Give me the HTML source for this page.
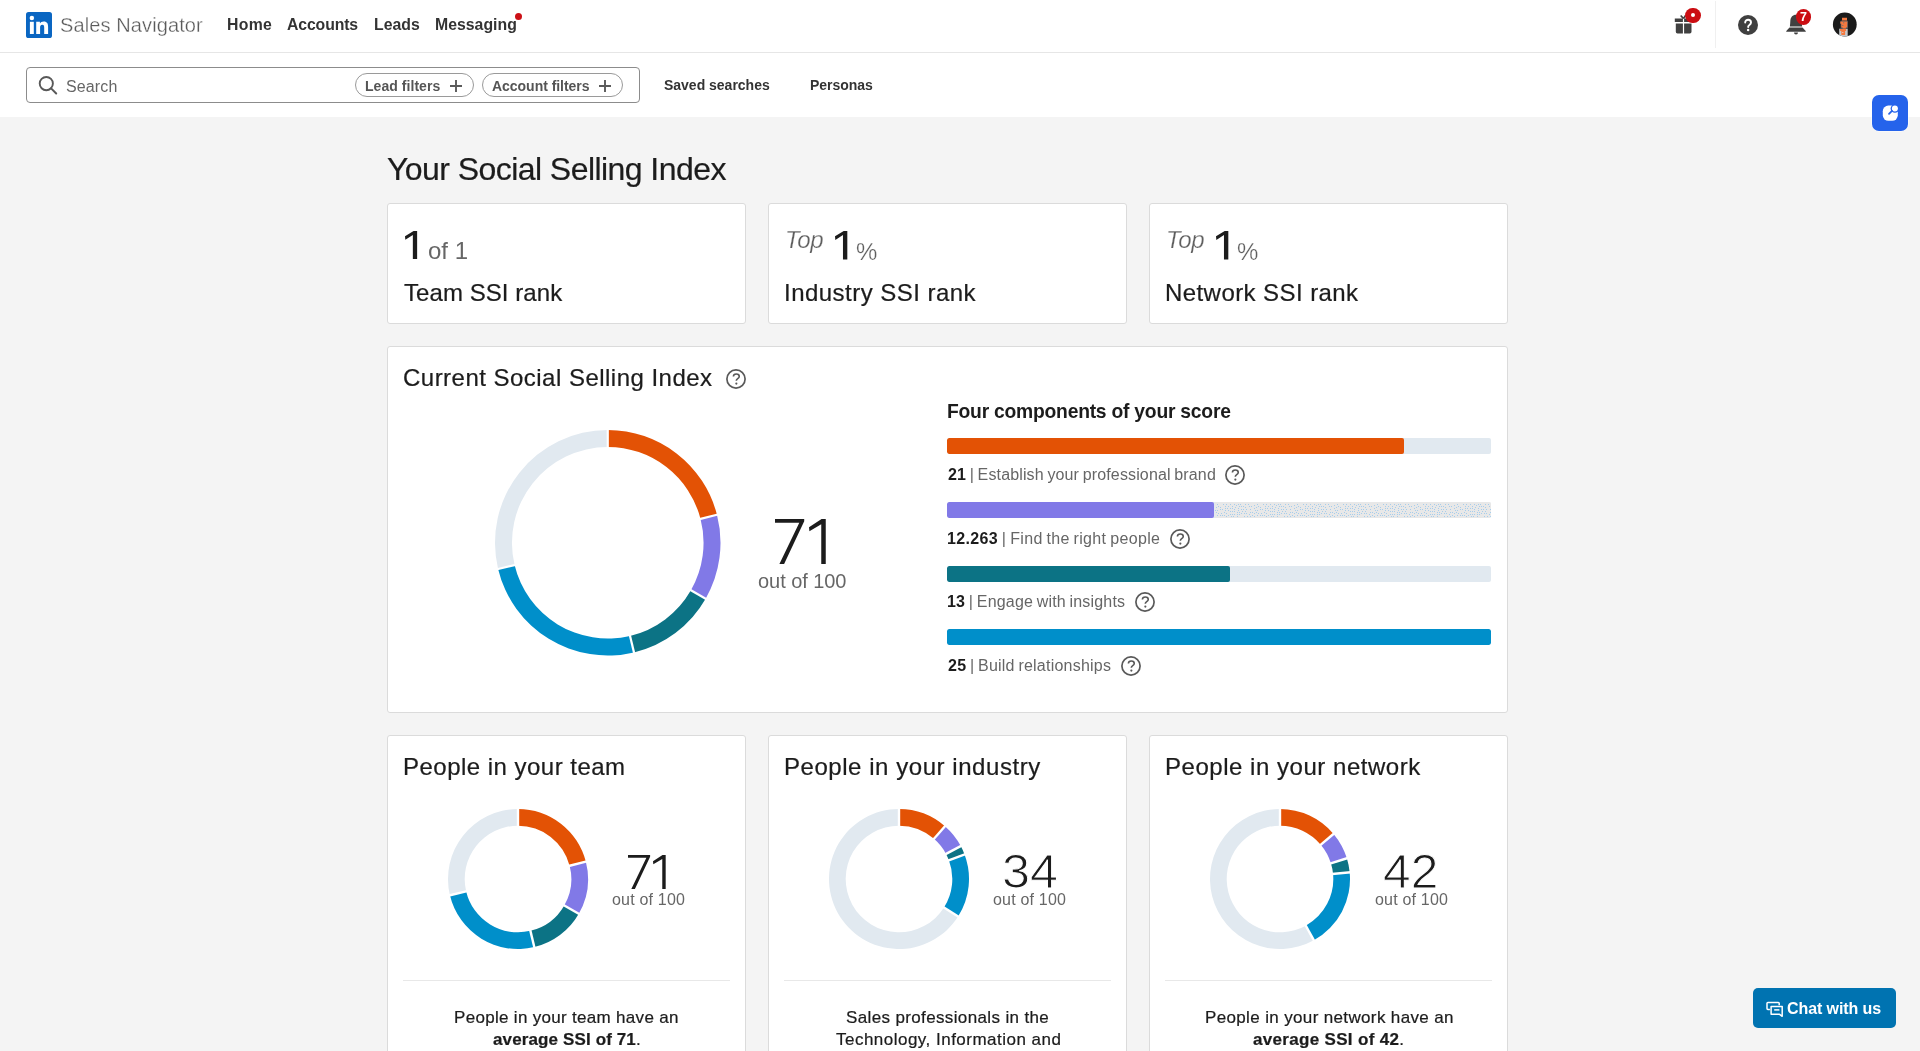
<!DOCTYPE html>
<html lang="en"><head><meta charset="utf-8"><title>Social Selling Index</title>
<style>
*{box-sizing:border-box;margin:0;padding:0}
html,body{width:1920px;height:1051px;overflow:hidden}
body{position:relative;background:#f4f4f4;font-family:"Liberation Sans",sans-serif;color:#1c1c1c}
.abs{position:absolute}
.t{position:absolute;white-space:pre;line-height:1;will-change:transform}
.card{position:absolute;background:#fff;border:1px solid #dbdbdb;border-radius:3px}
.bar{position:absolute;left:947px;width:544px;height:16px;border-radius:2px;background:#e1e9f0;overflow:hidden}
.bar i{display:block;height:100%;border-radius:2px}
.pill{position:absolute;top:73px;height:24px;border:1px solid #9a9a9a;border-radius:12px;background:#fff}
.hr{position:absolute;height:1px;background:#e8e8e8;top:980px;width:327px}
</style></head>
<body>
<div class="abs" style="left:0;top:0;width:1920px;height:117px;background:#fff"></div>
<div class="abs" style="left:0;top:52px;width:1920px;height:1px;background:#e6e6e6"></div>
<div class="abs" style="left:1715px;top:1px;width:1px;height:47px;background:#f0f0f0"></div>
<svg class="abs" style="left:26px;top:12px" width="26" height="26" viewBox="0 0 26 26"><rect width="26" height="26" rx="2.6" fill="#0a66c2"/><rect x="3.9" y="9.8" width="3.9" height="12.2" fill="#fff"/><circle cx="5.85" cy="5.9" r="2.25" fill="#fff"/><path d="M10.2 9.8h3.7v1.7c.6-1.1 1.9-2 3.8-2 3.6 0 4.4 2.3 4.4 5.4V22h-3.9v-6.300c0-1.500-.030-3.000-1.900-3.000s-2.200 1.400-2.200 2.900V22h-3.900z" fill="#fff"/></svg>
<div class="abs" style="left:514.5px;top:13px;width:7px;height:7px;border-radius:50%;background:#cc1016"></div>
<div class="abs" style="left:26px;top:67px;width:614px;height:36px;border:1px solid #8c8c8c;border-radius:4px;background:#fff"></div>
<svg class="abs" style="left:36px;top:74px" width="24" height="24" viewBox="0 0 24 24"><circle cx="10.3" cy="9.6" r="6.6" fill="none" stroke="#595959" stroke-width="1.9"/><path d="M15.1 14.4L20.2 19.5" stroke="#595959" stroke-width="2" stroke-linecap="round"/></svg>
<div class="pill" style="left:354.5px;width:119px"></div>
<div class="pill" style="left:481.5px;width:141.5px"></div>
<svg class="abs" style="left:447.8px;top:77.7px" width="16" height="16" viewBox="0 0 16 16"><path d="M8 2v12M2 8h12" stroke="#5a5a5a" stroke-width="1.9"/></svg>
<svg class="abs" style="left:597.3px;top:77.7px" width="16" height="16" viewBox="0 0 16 16"><path d="M8 2v12M2 8h12" stroke="#5a5a5a" stroke-width="1.9"/></svg>
<svg class="abs" style="left:1672px;top:12px" width="24" height="24" viewBox="0 0 24 24"><path d="M2.800 6.600h8.100v3.300H2.800zM12.100 6.600h8.400v3.300h-8.400zM3.800 11.400h7.100v10H5.500a1.700 1.700 0 0 1-1.700-1.700zM12.100 11.400h7.400v8.300a1.700 1.700 0 0 1-1.700 1.700h-5.700z" fill="#404040"/><path d="M11.500 6.600L8.700 3.500M11.500 6.600L13.500 3.300" fill="none" stroke="#404040" stroke-width="1.600"/></svg>
<div class="abs" style="left:1685.300px;top:7.500px;width:15.600px;height:15.600px;border-radius:50%;background:#cb0d12"></div>
<div class="abs" style="left:1691px;top:13.200px;width:4.200px;height:4.200px;border-radius:50%;background:#fff"></div>
<svg class="abs" style="left:1736px;top:12.600px" width="24" height="24" viewBox="0 0 24 24"><circle cx="12" cy="12" r="10" fill="#404040"/><path d="M9.200 9.500c0-1.600 1.300-2.700 2.900-2.700s2.900 1.100 2.900 2.600c0 1.300-.8 1.900-1.600 2.500-.7.500-1.200.9-1.200 1.800v.3" fill="none" stroke="#fff" stroke-width="1.900" stroke-linecap="round"/><circle cx="12.100" cy="17" r="1.250" fill="#fff"/></svg>
<svg class="abs" style="left:1784.400px;top:12px" width="24" height="24" viewBox="0 0 24 24"><path d="M12 2.800c-3.300 0-5.300 2.400-5.600 5.500L5.900 14.500h12.200l-.5-6.200C17.300 5.200 15.300 2.800 12 2.800z" fill="#404040"/><path d="M5.500 15.400h13l3.200 3.500c.3.400.1.800-.4.800H2.700c-.5 0-.7-.4-.4-.8z" fill="#404040"/><path d="M10 20.600a2 2 0 0 0 4 0z" fill="#404040"/></svg>
<div class="abs" style="left:1795.700px;top:8.800px;width:15.800px;height:15.800px;border-radius:50%;background:#cb0d12"></div>
<svg class="abs" style="left:1832px;top:12px" width="26" height="26" viewBox="0 0 26 26"><defs><clipPath id="av"><circle cx="12.800" cy="12.500" r="11.900"/></clipPath></defs><circle cx="12.800" cy="12.500" r="11.900" fill="#1a1a1a"/><g clip-path="url(#av)"><rect x="7.200" y="16.700" width="8.500" height="9" fill="#c5c8cb"/><rect x="8.600" y="8.500" width="7.400" height="8" rx="1" fill="#5f6d78" opacity=".75"/><path d="M10 5.700h5v2.800h-5zM8.300 9.600h7v2.200h-7zM9.300 11.800h5.900v3.600H9.300zM10.600 15.400h3.300v1h-3.300zM8.100 17h6v2.100h-6zM9.300 19.100h3.800v3.800H9.300z" fill="#f5793f"/><rect x="11.200" y="10.300" width="1" height="1" fill="#5f6d78"/><rect x="10.300" y="13" width="1" height="1" fill="#5f6d78"/><rect x="10.300" y="20" width="1" height="1" fill="#d8dde0"/></g></svg>
<div class="abs" style="left:1872px;top:95px;width:36px;height:36px;border-radius:7px;background:#2563eb;box-shadow:0 0 0 .6px rgba(255,255,255,.9)"></div>
<svg class="abs" style="left:1878px;top:101px" width="24" height="24" viewBox="0 0 24 24"><rect x="4.800" y="4.600" width="15" height="15.200" rx="5.600" fill="#fff"/><circle cx="16.900" cy="7.500" r="4.300" fill="#2563eb"/><circle cx="16.900" cy="7.500" r="3" fill="#fff"/><path d="M11 12.900L14 9.900" stroke="#2563eb" stroke-width="1.700" stroke-linecap="round"/></svg>
<div class="card" style="left:387px;top:203px;width:359px;height:121px"></div>
<div class="card" style="left:387px;top:735px;width:359px;height:340px"></div>
<div class="hr" style="left:403px"></div>
<div class="card" style="left:768px;top:203px;width:359px;height:121px"></div>
<div class="card" style="left:768px;top:735px;width:359px;height:340px"></div>
<div class="hr" style="left:784px"></div>
<div class="card" style="left:1149px;top:203px;width:359px;height:121px"></div>
<div class="card" style="left:1149px;top:735px;width:359px;height:340px"></div>
<div class="hr" style="left:1165px"></div>
<div class="card" style="left:387px;top:346px;width:1121px;height:367px"></div>
<div class="bar" style="top:438.0px"><i style="width:84.00%;background:#e35205"></i></div>
<div class="bar" style="top:502.0px"><i style="width:49.05%;background:#8179e7"></i></div>
<div class="bar" style="top:566.0px"><i style="width:52.00%;background:#0c7385"></i></div>
<div class="bar" style="top:629.0px"><i style="width:100.00%;background:#008fca"></i></div>
<svg class="abs" style="left:1215px;top:502px" width="276" height="16" viewBox="0 0 276 16"><defs><pattern id="dz" width="40" height="16" patternUnits="userSpaceOnUse"><rect width="40" height="16" fill="#e8e8e8"/><g fill="#a6cdec"><rect x="0" y="8" width="1" height="1"/><rect x="1" y="5" width="1" height="1"/><rect x="1" y="10" width="1" height="1"/><rect x="2" y="2" width="1" height="1"/><rect x="2" y="8" width="1" height="1"/><rect x="2" y="13" width="1" height="1"/><rect x="3" y="4" width="1" height="1"/><rect x="3" y="11" width="1" height="1"/><rect x="5" y="5" width="1" height="1"/><rect x="5" y="7" width="1" height="1"/><rect x="5" y="13" width="1" height="1"/><rect x="6" y="11" width="1" height="1"/><rect x="7" y="7" width="1" height="1"/><rect x="7" y="13" width="1" height="1"/><rect x="8" y="2" width="1" height="1"/><rect x="9" y="10" width="1" height="1"/><rect x="9" y="13" width="1" height="1"/><rect x="10" y="4" width="1" height="1"/><rect x="10" y="6" width="1" height="1"/><rect x="10" y="8" width="1" height="1"/><rect x="11" y="2" width="1" height="1"/><rect x="11" y="11" width="1" height="1"/><rect x="11" y="14" width="1" height="1"/><rect x="12" y="6" width="1" height="1"/><rect x="13" y="4" width="1" height="1"/><rect x="13" y="8" width="1" height="1"/><rect x="13" y="13" width="1" height="1"/><rect x="15" y="2" width="1" height="1"/><rect x="15" y="6" width="1" height="1"/><rect x="15" y="9" width="1" height="1"/><rect x="15" y="12" width="1" height="1"/><rect x="16" y="14" width="1" height="1"/><rect x="17" y="4" width="1" height="1"/><rect x="17" y="6" width="1" height="1"/><rect x="17" y="9" width="1" height="1"/><rect x="17" y="12" width="1" height="1"/><rect x="18" y="14" width="1" height="1"/><rect x="19" y="2" width="1" height="1"/><rect x="19" y="7" width="1" height="1"/><rect x="19" y="9" width="1" height="1"/><rect x="19" y="12" width="1" height="1"/><rect x="20" y="5" width="1" height="1"/><rect x="21" y="3" width="1" height="1"/><rect x="22" y="10" width="1" height="1"/><rect x="22" y="12" width="1" height="1"/><rect x="22" y="14" width="1" height="1"/><rect x="23" y="2" width="1" height="1"/><rect x="23" y="6" width="1" height="1"/><rect x="23" y="8" width="1" height="1"/><rect x="24" y="4" width="1" height="1"/><rect x="24" y="10" width="1" height="1"/><rect x="24" y="12" width="1" height="1"/><rect x="25" y="2" width="1" height="1"/><rect x="26" y="4" width="1" height="1"/><rect x="26" y="7" width="1" height="1"/><rect x="26" y="11" width="1" height="1"/><rect x="27" y="9" width="1" height="1"/><rect x="28" y="4" width="1" height="1"/><rect x="28" y="7" width="1" height="1"/><rect x="29" y="11" width="1" height="1"/><rect x="29" y="14" width="1" height="1"/><rect x="30" y="2" width="1" height="1"/><rect x="30" y="5" width="1" height="1"/><rect x="30" y="9" width="1" height="1"/><rect x="31" y="7" width="1" height="1"/><rect x="31" y="11" width="1" height="1"/><rect x="32" y="14" width="1" height="1"/><rect x="33" y="2" width="1" height="1"/><rect x="34" y="4" width="1" height="1"/><rect x="34" y="12" width="1" height="1"/><rect x="35" y="7" width="1" height="1"/><rect x="35" y="10" width="1" height="1"/><rect x="35" y="14" width="1" height="1"/><rect x="36" y="4" width="1" height="1"/><rect x="37" y="10" width="1" height="1"/><rect x="37" y="13" width="1" height="1"/><rect x="39" y="3" width="1" height="1"/><rect x="39" y="6" width="1" height="1"/><rect x="39" y="11" width="1" height="1"/><rect x="39" y="14" width="1" height="1"/></g></pattern></defs><rect width="276" height="16" rx="2" fill="url(#dz)"/></svg>
<svg class="abs" style="left:492.85px;top:427.85px" width="229.5" height="229.5" viewBox="0 0 229.5 229.5"><path d="M114.75 2.00A112.75 112.75 0 0 1 223.96 86.71L207.54 90.93A95.8 95.8 0 0 0 114.75 18.95Z" fill="#e35205"/><path d="M223.96 86.71A112.75 112.75 0 0 1 212.64 170.69L197.93 162.28A95.8 95.8 0 0 0 207.54 90.93Z" fill="#8179e7"/><path d="M212.64 170.69A112.75 112.75 0 0 1 140.98 224.41L137.04 207.92A95.8 95.8 0 0 0 197.93 162.28Z" fill="#0c7385"/><path d="M140.98 224.41A112.75 112.75 0 0 1 5.09 140.98L21.58 137.04A95.8 95.8 0 0 0 137.04 207.92Z" fill="#008fca"/><path d="M5.09 140.98A112.75 112.75 0 0 1 114.75 2.00L114.75 18.95A95.8 95.8 0 0 0 21.58 137.04Z" fill="#e1e9f0"/><path d="M114.75 19.95L114.75 1.00" stroke="#fff" stroke-width="2.2"/><path d="M206.57 91.17L224.93 86.46" stroke="#fff" stroke-width="2.2"/><path d="M197.06 161.79L213.51 171.19" stroke="#fff" stroke-width="2.2"/><path d="M136.81 206.95L141.21 225.38" stroke="#fff" stroke-width="2.2"/><path d="M22.55 136.81L4.12 141.21" stroke="#fff" stroke-width="2.2"/></svg>
<svg class="abs" style="left:445.70px;top:806.70px" width="144.0" height="144.0" viewBox="0 0 144.0 144.0"><path d="M72.00 2.00A70.0 70.0 0 0 1 139.80 54.59L123.63 58.74A53.3 53.3 0 0 0 72.00 18.70Z" fill="#e35205"/><path d="M139.80 54.59A70.0 70.0 0 0 1 132.78 106.73L118.28 98.45A53.3 53.3 0 0 0 123.63 58.74Z" fill="#8179e7"/><path d="M132.78 106.73A70.0 70.0 0 0 1 88.29 140.08L84.40 123.84A53.3 53.3 0 0 0 118.28 98.45Z" fill="#0c7385"/><path d="M88.29 140.08A70.0 70.0 0 0 1 3.92 88.29L20.16 84.40A53.3 53.3 0 0 0 84.40 123.84Z" fill="#008fca"/><path d="M3.92 88.29A70.0 70.0 0 0 1 72.00 2.00L72.00 18.70A53.3 53.3 0 0 0 20.16 84.40Z" fill="#e1e9f0"/><path d="M72.00 19.70L72.00 1.00" stroke="#fff" stroke-width="2.4"/><path d="M122.66 58.99L140.77 54.34" stroke="#fff" stroke-width="2.4"/><path d="M117.41 97.95L133.64 107.23" stroke="#fff" stroke-width="2.4"/><path d="M84.17 122.86L88.52 141.05" stroke="#fff" stroke-width="2.4"/><path d="M21.14 84.17L2.95 88.52" stroke="#fff" stroke-width="2.4"/></svg>
<svg class="abs" style="left:826.70px;top:806.70px" width="144.0" height="144.0" viewBox="0 0 144.0 144.0"><path d="M72.00 2.00A70.0 70.0 0 0 1 117.96 19.20L107.00 31.80A53.3 53.3 0 0 0 72.00 18.70Z" fill="#e35205"/><path d="M117.96 19.20A70.0 70.0 0 0 1 133.76 39.05L119.03 46.91A53.3 53.3 0 0 0 107.00 31.80Z" fill="#8179e7"/><path d="M133.76 39.05A70.0 70.0 0 0 1 137.56 47.46L121.92 53.32A53.3 53.3 0 0 0 119.03 46.91Z" fill="#0c7385"/><path d="M137.56 47.46A70.0 70.0 0 0 1 131.10 109.51L117.00 100.56A53.3 53.3 0 0 0 121.92 53.32Z" fill="#008fca"/><path d="M131.10 109.51A70.0 70.0 0 1 1 72.00 2.00L72.00 18.70A53.3 53.3 0 1 0 117.00 100.56Z" fill="#e1e9f0"/><path d="M72.00 19.70L72.00 1.00" stroke="#fff" stroke-width="2.4"/><path d="M106.34 32.55L118.62 18.45" stroke="#fff" stroke-width="2.4"/><path d="M118.14 47.38L134.64 38.58" stroke="#fff" stroke-width="2.4"/><path d="M120.98 53.67L138.50 47.11" stroke="#fff" stroke-width="2.4"/><path d="M116.16 100.02L131.95 110.04" stroke="#fff" stroke-width="2.4"/></svg>
<svg class="abs" style="left:1207.70px;top:806.70px" width="144.0" height="144.0" viewBox="0 0 144.0 144.0"><path d="M72.00 2.00A70.0 70.0 0 0 1 125.54 26.91L112.77 37.67A53.3 53.3 0 0 0 72.00 18.70Z" fill="#e35205"/><path d="M125.54 26.91A70.0 70.0 0 0 1 138.87 51.29L122.91 56.23A53.3 53.3 0 0 0 112.77 37.67Z" fill="#8179e7"/><path d="M138.87 51.29A70.0 70.0 0 0 1 141.68 65.28L125.05 66.88A53.3 53.3 0 0 0 122.91 56.23Z" fill="#0c7385"/><path d="M141.68 65.28A70.0 70.0 0 0 1 105.84 133.28L97.77 118.66A53.3 53.3 0 0 0 125.05 66.88Z" fill="#008fca"/><path d="M105.84 133.28A70.0 70.0 0 1 1 72.00 2.00L72.00 18.70A53.3 53.3 0 1 0 97.77 118.66Z" fill="#e1e9f0"/><path d="M72.00 19.70L72.00 1.00" stroke="#fff" stroke-width="2.4"/><path d="M112.00 38.31L126.31 26.26" stroke="#fff" stroke-width="2.4"/><path d="M121.96 56.53L139.82 51.00" stroke="#fff" stroke-width="2.4"/><path d="M124.06 66.98L142.67 65.19" stroke="#fff" stroke-width="2.4"/><path d="M97.28 117.78L106.32 134.15" stroke="#fff" stroke-width="2.4"/></svg>
<svg class="abs" style="left:404.75px;top:231.18px" width="15" height="31" viewBox="0 0 15 31"><polygon points="12.13,0.00 8.57,0.00 0.00,5.23 0.34,8.80 7.85,4.04 7.85,28.07 12.13,28.07" fill="#1c1c1c"/></svg>
<svg class="abs" style="left:834.68px;top:231.00px" width="15" height="31" viewBox="0 0 15 31"><polygon points="12.32,0.00 8.70,0.00 0.00,5.31 0.35,8.93 7.97,4.10 7.97,28.50 12.32,28.50" fill="#1c1c1c"/></svg>
<svg class="abs" style="left:1215.68px;top:231.00px" width="15" height="31" viewBox="0 0 15 31"><polygon points="12.32,0.00 8.70,0.00 0.00,5.31 0.35,8.93 7.97,4.10 7.97,28.50 12.32,28.50" fill="#1c1c1c"/></svg>
<svg class="abs" style="left:808.87px;top:519.15px" width="19" height="47" viewBox="0 0 19 47"><polygon points="16.75,0.00 12.56,0.00 0.00,8.27 0.42,12.25 12.25,5.13 12.25,44.91 16.75,44.91" fill="#1c1c1c"/></svg>
<svg class="abs" style="left:774.85px;top:519.15px" width="32" height="47" viewBox="0 0 32 47"><polygon points="0.00,0.00 29.21,0.00 29.21,2.31 9.11,44.91 4.40,44.91 24.29,3.67 0.00,3.67" fill="#1c1c1c"/></svg>
<svg class="abs" style="left:627.80px;top:854.50px" width="25" height="36" viewBox="0 0 25 36"><polygon points="0.00,0.00 22.11,0.00 22.11,1.75 6.90,34.00 3.33,34.00 18.39,2.78 0.00,2.78" fill="#1c1c1c"/></svg>
<svg class="abs" style="left:653.17px;top:854.50px" width="15" height="36" viewBox="0 0 15 36"><polygon points="12.68,0.00 9.51,0.00 0.00,6.26 0.32,9.27 9.27,3.88 9.27,34.00 12.68,34.00" fill="#1c1c1c"/></svg>
<svg class="abs" style="left:724.30px;top:366.60px" width="24" height="24" viewBox="0 0 24 24"><circle cx="12" cy="12" r="9.1" fill="none" stroke="#595959" stroke-width="1.7"/><path d="M9.400 9.600C9.400 8 10.600 6.950 12.300 6.950C14 6.950 15.250 8 15.250 9.450C15.250 10.600 14.500 11.150 13.700 11.700C12.900 12.250 12.350 12.700 12.350 13.500L12.350 13.800" fill="none" stroke="#595959" stroke-width="1.600"/><circle cx="12.350" cy="16.600" r="1.100" fill="#595959"/></svg>
<svg class="abs" style="left:1222.80px;top:462.85px" width="24" height="24" viewBox="0 0 24 24"><circle cx="12" cy="12" r="9.1" fill="none" stroke="#595959" stroke-width="1.7"/><path d="M9.400 9.600C9.400 8 10.600 6.950 12.300 6.950C14 6.950 15.250 8 15.250 9.450C15.250 10.600 14.500 11.150 13.700 11.700C12.900 12.250 12.350 12.700 12.350 13.500L12.350 13.800" fill="none" stroke="#595959" stroke-width="1.600"/><circle cx="12.350" cy="16.600" r="1.100" fill="#595959"/></svg>
<svg class="abs" style="left:1168.10px;top:526.85px" width="24" height="24" viewBox="0 0 24 24"><circle cx="12" cy="12" r="9.1" fill="none" stroke="#595959" stroke-width="1.7"/><path d="M9.400 9.600C9.400 8 10.600 6.950 12.300 6.950C14 6.950 15.250 8 15.250 9.450C15.250 10.600 14.500 11.150 13.700 11.700C12.900 12.250 12.350 12.700 12.350 13.500L12.350 13.800" fill="none" stroke="#595959" stroke-width="1.600"/><circle cx="12.350" cy="16.600" r="1.100" fill="#595959"/></svg>
<svg class="abs" style="left:1133.30px;top:589.85px" width="24" height="24" viewBox="0 0 24 24"><circle cx="12" cy="12" r="9.1" fill="none" stroke="#595959" stroke-width="1.7"/><path d="M9.400 9.600C9.400 8 10.600 6.950 12.300 6.950C14 6.950 15.250 8 15.250 9.450C15.250 10.600 14.500 11.150 13.700 11.700C12.900 12.250 12.350 12.700 12.350 13.500L12.350 13.800" fill="none" stroke="#595959" stroke-width="1.600"/><circle cx="12.350" cy="16.600" r="1.100" fill="#595959"/></svg>
<svg class="abs" style="left:1118.50px;top:653.85px" width="24" height="24" viewBox="0 0 24 24"><circle cx="12" cy="12" r="9.1" fill="none" stroke="#595959" stroke-width="1.7"/><path d="M9.400 9.600C9.400 8 10.600 6.950 12.300 6.950C14 6.950 15.250 8 15.250 9.450C15.250 10.600 14.500 11.150 13.700 11.700C12.900 12.250 12.350 12.700 12.350 13.500L12.350 13.800" fill="none" stroke="#595959" stroke-width="1.600"/><circle cx="12.350" cy="16.600" r="1.100" fill="#595959"/></svg>
<div class="abs" style="left:1753px;top:988px;width:143px;height:40px;border-radius:5px;background:#0073b1"></div>
<svg class="abs" style="left:1765px;top:1000px" width="20" height="18" viewBox="0 0 20 18"><path d="M14.200 5.200V3.300a.9.900 0 0 0-.9-.9H2.900a.9.900 0 0 0-.9.900v5.300a.9.900 0 0 0 .9.900h2" fill="none" stroke="#fff" stroke-width="1.500"/><path d="M6.100 6.500h11.100v7.800h-0v2l-2.600-2H6.100z" fill="none" stroke="#fff" stroke-width="1.500" stroke-linejoin="round"/><path d="M9.200 9.900h5.200" stroke="#fff" stroke-width="1.500"/></svg>
<span class="t" style="left:59.62px;top:14px;line-height:22px;font-size:20px;color:#5a5a5a;letter-spacing:0.111px;-webkit-text-stroke:0.3px #fff;">Sales Navigator</span>
<span class="t" style="left:226.89px;top:16px;line-height:17px;font-size:15.8px;color:#333;font-weight:700;letter-spacing:0.331px;">Home</span>
<span class="t" style="left:287.40px;top:16px;line-height:17px;font-size:15.8px;color:#333;font-weight:700;letter-spacing:-0.121px;">Accounts</span>
<span class="t" style="left:373.59px;top:16px;line-height:17px;font-size:15.8px;color:#333;font-weight:700;letter-spacing:0.019px;">Leads</span>
<span class="t" style="left:434.99px;top:16px;line-height:17px;font-size:15.8px;color:#333;font-weight:700;letter-spacing:0.021px;">Messaging</span>
<span class="t" style="left:66.38px;top:78px;line-height:17px;font-size:16px;color:#666;letter-spacing:0.131px;">Search</span>
<span class="t" style="left:364.65px;top:78px;line-height:16px;font-size:14px;color:#555;font-weight:700;letter-spacing:0.048px;">Lead filters</span>
<span class="t" style="left:491.63px;top:78px;line-height:16px;font-size:14px;color:#555;font-weight:700;letter-spacing:-0.032px;">Account filters</span>
<span class="t" style="left:664.14px;top:77px;line-height:16px;font-size:14px;color:#333;font-weight:700;letter-spacing:-0.013px;">Saved searches</span>
<span class="t" style="left:810.05px;top:77px;line-height:16px;font-size:14px;color:#333;font-weight:700;letter-spacing:-0.052px;">Personas</span>
<span class="t" style="left:387.23px;top:151px;line-height:36px;font-size:32px;color:#1c1c1c;letter-spacing:-0.560px;-webkit-text-stroke:0.22px #1c1c1c;">Your Social Selling Index</span>
<span class="t" style="left:428.09px;top:237px;line-height:27px;font-size:24px;color:#666;letter-spacing:0.023px;">of 1</span>
<span class="t" style="left:403.92px;top:279px;line-height:27px;font-size:24px;color:#1c1c1c;letter-spacing:0.064px;-webkit-text-stroke:0.22px #1c1c1c;">Team SSI rank</span>
<span class="t" style="left:784.54px;top:226px;line-height:27px;font-size:24px;color:#5e5e5e;font-style:italic;letter-spacing:-0.265px;-webkit-text-stroke:0.25px #fff;">Top</span>
<span class="t" style="left:856.27px;top:238px;line-height:27px;font-size:24px;color:#5e5e5e;letter-spacing:-0.114px;-webkit-text-stroke:0.25px #fff;">%</span>
<span class="t" style="left:1165.54px;top:226px;line-height:27px;font-size:24px;color:#5e5e5e;font-style:italic;letter-spacing:-0.265px;-webkit-text-stroke:0.25px #fff;">Top</span>
<span class="t" style="left:1237.27px;top:238px;line-height:27px;font-size:24px;color:#5e5e5e;letter-spacing:-0.114px;-webkit-text-stroke:0.25px #fff;">%</span>
<span class="t" style="left:784.04px;top:279px;line-height:27px;font-size:24px;color:#1c1c1c;letter-spacing:0.471px;-webkit-text-stroke:0.22px #1c1c1c;">Industry SSI rank</span>
<span class="t" style="left:1165.12px;top:279px;line-height:27px;font-size:24px;color:#1c1c1c;letter-spacing:0.425px;-webkit-text-stroke:0.22px #1c1c1c;">Network SSI rank</span>
<span class="t" style="left:402.90px;top:364px;line-height:27px;font-size:24px;color:#1c1c1c;letter-spacing:0.478px;-webkit-text-stroke:0.22px #1c1c1c;">Current Social Selling Index</span>
<span class="t" style="left:758.49px;top:570px;line-height:22px;font-size:20px;color:#666;letter-spacing:-0.056px;">out of 100</span>
<span class="t" style="left:947.43px;top:401px;line-height:21px;font-size:19.3px;color:#1c1c1c;font-weight:700;letter-spacing:-0.230px;">Four components of your score</span>
<span class="t" style="left:947.50px;top:466px;line-height:17px;font-size:16px;color:#666;letter-spacing:0.145px;word-spacing:-1.0px;"><b style="color:#1c1c1c">21</b> | Establish your professional brand</span>
<span class="t" style="left:947.19px;top:530px;line-height:17px;font-size:16px;color:#666;letter-spacing:0.349px;word-spacing:-1.0px;"><b style="color:#1c1c1c">12.263</b> | Find the right people</span>
<span class="t" style="left:947.19px;top:593px;line-height:17px;font-size:16px;color:#666;letter-spacing:0.187px;word-spacing:-1.0px;"><b style="color:#1c1c1c">13</b> | Engage with insights</span>
<span class="t" style="left:947.50px;top:657px;line-height:17px;font-size:16px;color:#666;letter-spacing:0.227px;word-spacing:-1.0px;"><b style="color:#1c1c1c">25</b> | Build relationships</span>
<span class="t" style="left:403.32px;top:753px;line-height:27px;font-size:24px;color:#1c1c1c;letter-spacing:0.476px;-webkit-text-stroke:0.22px #1c1c1c;">People in your team</span>
<span class="t" style="left:784.32px;top:753px;line-height:27px;font-size:24px;color:#1c1c1c;letter-spacing:0.548px;-webkit-text-stroke:0.22px #1c1c1c;">People in your industry</span>
<span class="t" style="left:1165.32px;top:753px;line-height:27px;font-size:24px;color:#1c1c1c;letter-spacing:0.530px;-webkit-text-stroke:0.22px #1c1c1c;">People in your network</span>
<span class="t" style="left:1001.89px;top:844px;line-height:54px;font-size:49px;color:#1c1c1c;transform:scaleX(1.0266);transform-origin:0 0;-webkit-text-stroke:1.05px #fff;">34</span>
<span class="t" style="left:1383.44px;top:844px;line-height:54px;font-size:49px;color:#1c1c1c;transform:scaleX(1.0147);transform-origin:0 0;-webkit-text-stroke:1.05px #fff;">42</span>
<span class="t" style="left:612.21px;top:891px;line-height:17px;font-size:16px;color:#666;letter-spacing:0.190px;">out of 100</span>
<span class="t" style="left:993.31px;top:891px;line-height:17px;font-size:16px;color:#666;letter-spacing:0.190px;">out of 100</span>
<span class="t" style="left:1374.51px;top:891px;line-height:17px;font-size:16px;color:#666;letter-spacing:0.190px;">out of 100</span>
<span class="t" style="left:454.16px;top:1008px;line-height:19px;font-size:17px;color:#1c1c1c;letter-spacing:0.308px;-webkit-text-stroke:0.22px #1c1c1c;">People in your team have an</span>
<span class="t" style="left:492.72px;top:1030px;line-height:19px;font-size:17px;color:#1c1c1c;letter-spacing:0.126px;-webkit-text-stroke:0.22px #1c1c1c;"><b>average SSI of 71</b>.</span>
<span class="t" style="left:845.99px;top:1008px;line-height:19px;font-size:17px;color:#1c1c1c;letter-spacing:0.363px;-webkit-text-stroke:0.22px #1c1c1c;">Sales professionals in the</span>
<span class="t" style="left:835.88px;top:1030px;line-height:19px;font-size:17px;color:#1c1c1c;letter-spacing:0.485px;-webkit-text-stroke:0.22px #1c1c1c;">Technology, Information and</span>
<span class="t" style="left:1204.56px;top:1008px;line-height:19px;font-size:17px;color:#1c1c1c;letter-spacing:0.355px;-webkit-text-stroke:0.22px #1c1c1c;">People in your network have an</span>
<span class="t" style="left:1253.22px;top:1030px;line-height:19px;font-size:17px;color:#1c1c1c;letter-spacing:0.320px;-webkit-text-stroke:0.22px #1c1c1c;"><b>average SSI of 42</b>.</span>
<span class="t" style="left:1786.81px;top:1000px;line-height:17px;font-size:16px;color:#fff;font-weight:700;letter-spacing:-0.085px;">Chat with us</span>
<span class="t" style="left:1800.200px;top:10.600px;font-size:12.500px;font-weight:700;color:#fff">7</span>
</body></html>
